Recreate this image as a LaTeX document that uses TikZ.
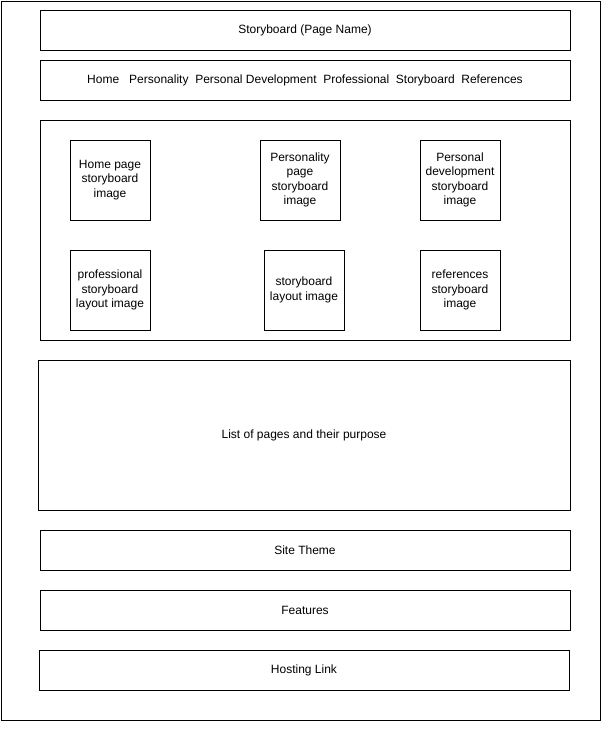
\documentclass[tikz,border=0pt]{standalone}
\usepackage{fontspec}
\setmainfont{Liberation Sans}
\begin{document}
\begin{tikzpicture}[x=1pt,y=-1pt,
  frame/.style={draw, line width=1pt, inner sep=0pt, align=center,
    font=\fontsize{12}{14.5}\selectfont},
  wide/.style={frame, minimum width=530pt, minimum height=40pt},
  thumb/.style={frame, minimum width=80pt, minimum height=80pt}]
\useasboundingbox (0,0) rectangle (601,729);
\node[frame, minimum width=599pt, minimum height=719pt] (outer) at (300.5,360.5) {};
\node[wide] (title) at (305,30) {Storyboard (Page Name)};
\node[wide] (nav) at (305,80) {Home~~~Personality~~Personal Development~~Professional~~Storyboard~~References};
\node[frame, minimum width=530pt, minimum height=220pt] (gallery) at (305,230) {};
\node[thumb] (home) at (110,180) {Home page\\storyboard\\image};
\node[thumb] (pers) at (300,180) {Personality\\page\\storyboard\\image};
\node[thumb] (pdev) at (460,180) {Personal\\development\\storyboard\\image};
\node[thumb] (prof) at (110,290) {professional\\storyboard\\layout image};
\node[thumb] (story) at (304,290) {storyboard\\layout image};
\node[thumb] (refs) at (460,290) {references\\storyboard\\image};
\node[frame, minimum width=532pt, minimum height=150pt] (list) at (304,435) {List of pages and their purpose};
\node[wide] (theme) at (305,550) {Site Theme};
\node[wide] (feat) at (305,610) {Features};
\node[wide] (host) at (304,670) {Hosting Link};
\end{tikzpicture}
\end{document}
